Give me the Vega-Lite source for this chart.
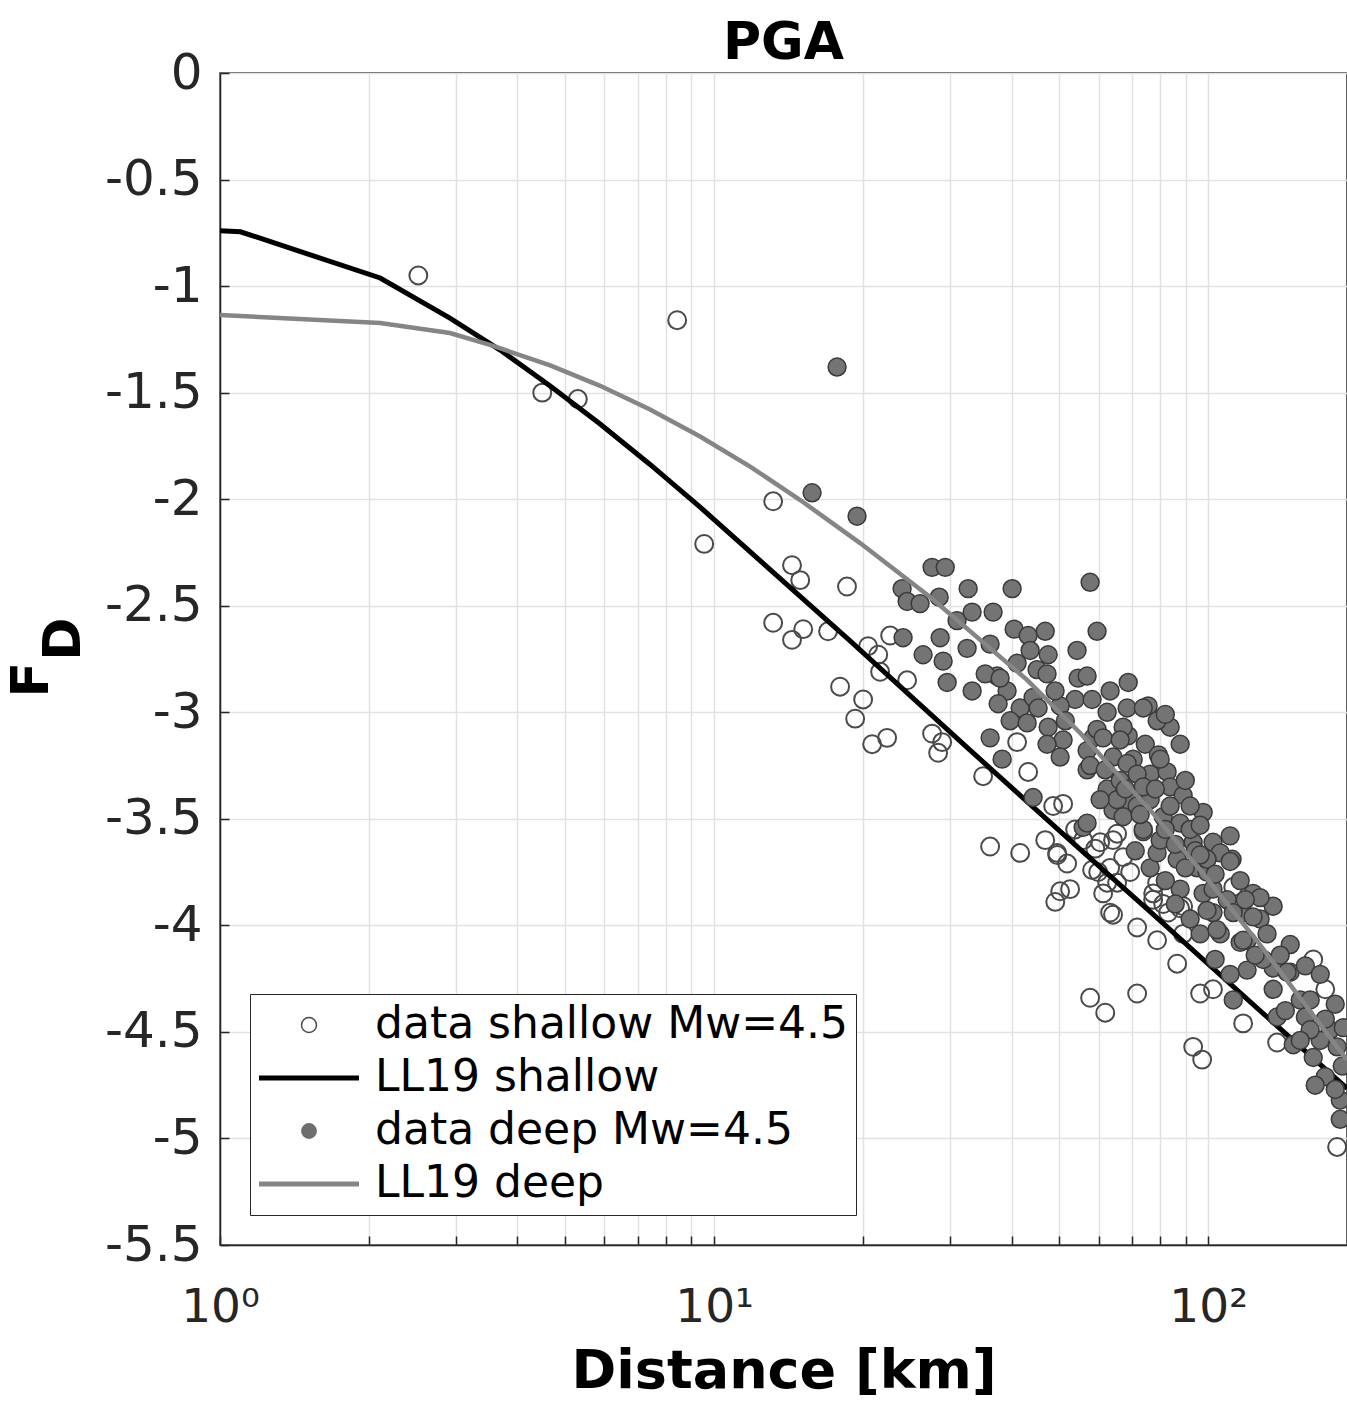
{
  "$schema": "https://vega.github.io/schema/vega-lite/v6.json",
  "width": 1127,
  "height": 1172,
  "autosize": {"type": "none"},
  "padding": {"left": 220, "top": 73, "right": 0, "bottom": 156},
  "background": "white",
  "title": {"text": "PGA", "frame": "group", "anchor": "middle", "fontSize": 52, "fontWeight": "bold", "font": "DejaVu Sans", "color": "#000000", "baseline": "alphabetic", "offset": -63},
  "config": {"view": {"stroke": "#262626", "strokeWidth": 1.5}, "font": "DejaVu Sans"},
  "datasets": {
    "shallow": [
      {"d":2.52,"fd":-0.95},{"d":8.42,"fd":-1.16},{"d":4.49,"fd":-1.50},{"d":5.30,"fd":-1.53},{"d":13.17,"fd":-2.01},{"d":9.55,"fd":-2.21},{"d":14.38,"fd":-2.31},{"d":14.94,"fd":-2.38},{"d":18.58,"fd":-2.41},{"d":13.17,"fd":-2.58},{"d":15.15,"fd":-2.61},{"d":14.38,"fd":-2.66},{"d":17.01,"fd":-2.62},{"d":20.50,"fd":-2.69},{"d":21.49,"fd":-2.73},{"d":21.68,"fd":-2.81},{"d":17.99,"fd":-2.88},{"d":20.03,"fd":-2.94},{"d":19.30,"fd":-3.03},{"d":22.40,"fd":-3.12},{"d":20.89,"fd":-3.15},{"d":22.72,"fd":-2.64},{"d":24.59,"fd":-2.85},{"d":27.62,"fd":-3.10},{"d":28.95,"fd":-3.14},{"d":28.41,"fd":-3.19},{"d":35.04,"fd":-3.30},{"d":43.22,"fd":-3.28},{"d":41.05,"fd":-3.14},{"d":36.20,"fd":-3.63},{"d":41.64,"fd":-3.66},{"d":48.56,"fd":-3.44},{"d":50.87,"fd":-3.43},{"d":49.47,"fd":-3.66},{"d":51.83,"fd":-3.71},{"d":55.84,"fd":-3.60},{"d":60.45,"fd":-3.61},{"d":65.42,"fd":-3.57},{"d":52.55,"fd":-3.83},{"d":61.30,"fd":-3.85},{"d":67.29,"fd":-3.68},{"d":69.53,"fd":-3.75},{"d":58.23,"fd":-3.74},{"d":63.33,"fd":-3.73},{"d":50.17,"fd":-3.84},{"d":49.04,"fd":-3.89},{"d":62.45,"fd":-3.80},{"d":63.33,"fd":-3.94},{"d":71.82,"fd":-4.01},{"d":77.39,"fd":-3.88},{"d":83.0,"fd":-3.94},{"d":89.0,"fd":-4.04},{"d":89.0,"fd":-3.91},{"d":78.84,"fd":-4.07},{"d":65.42,"fd":-3.80},{"d":86.55,"fd":-4.18},{"d":96.34,"fd":-4.32},{"d":102.3,"fd":-4.30},{"d":57.69,"fd":-4.34},{"d":61.90,"fd":-4.41},{"d":71.82,"fd":-4.32},{"d":93.25,"fd":-4.57},{"d":97.25,"fd":-4.63},{"d":117.7,"fd":-4.46},{"d":137.9,"fd":-4.55},{"d":163.2,"fd":-4.16},{"d":172.6,"fd":-4.30},{"d":182.4,"fd":-5.04},{"d":112.4,"fd":-3.82},{"d":78.84,"fd":-3.80},{"d":53.8,"fd":-3.55},{"d":46.8,"fd":-3.60},{"d":64.2,"fd":-3.60},{"d":59.1,"fd":-3.64},{"d":59.9,"fd":-3.75},{"d":81.1,"fd":-3.90},{"d":77.4,"fd":-3.85},{"d":87.77,"fd":-3.92},{"d":49.5,"fd":-3.67},{"d":64.2,"fd":-3.95}
    ],
    "deep": [
      {"d":17.74,"fd":-1.38},{"d":15.79,"fd":-1.97},{"d":19.47,"fd":-2.08},{"d":27.62,"fd":-2.32},{"d":29.37,"fd":-2.32},{"d":24.02,"fd":-2.42},{"d":24.59,"fd":-2.48},{"d":26.12,"fd":-2.49},{"d":28.55,"fd":-2.46},{"d":32.68,"fd":-2.42},{"d":40.11,"fd":-2.42},{"d":57.69,"fd":-2.39},{"d":31.03,"fd":-2.57},{"d":33.29,"fd":-2.53},{"d":36.71,"fd":-2.53},{"d":28.68,"fd":-2.65},{"d":24.13,"fd":-2.65},{"d":32.52,"fd":-2.70},{"d":26.49,"fd":-2.73},{"d":29.08,"fd":-2.76},{"d":29.63,"fd":-2.86},{"d":33.29,"fd":-2.90},{"d":36.20,"fd":-2.68},{"d":40.49,"fd":-2.61},{"d":43.22,"fd":-2.64},{"d":46.80,"fd":-2.62},{"d":59.59,"fd":-2.62},{"d":37.40,"fd":-2.83},{"d":41.05,"fd":-2.77},{"d":45.06,"fd":-2.80},{"d":39.18,"fd":-2.90},{"d":41.64,"fd":-2.98},{"d":44.23,"fd":-2.93},{"d":36.20,"fd":-3.12},{"d":39.74,"fd":-3.04},{"d":35.38,"fd":-2.82},{"d":37.93,"fd":-2.84},{"d":43.62,"fd":-2.71},{"d":47.44,"fd":-2.73},{"d":54.28,"fd":-2.71},{"d":47.2,"fd":-2.82},{"d":37.58,"fd":-2.96},{"d":45.28,"fd":-2.98},{"d":43.02,"fd":-3.05},{"d":47.44,"fd":-3.07},{"d":50.87,"fd":-3.13},{"d":54.55,"fd":-2.84},{"d":56.89,"fd":-2.83},{"d":53.8,"fd":-2.94},{"d":58.23,"fd":-2.94},{"d":38.29,"fd":-3.22},{"d":44.23,"fd":-3.40},{"d":47.2,"fd":-3.15},{"d":50.17,"fd":-3.21},{"d":56.89,"fd":-3.27},{"d":58.5,"fd":-3.12},{"d":55.84,"fd":-3.54},{"d":63.33,"fd":-2.90},{"d":68.9,"fd":-2.86},{"d":75.6,"fd":-2.97},{"d":83.78,"fd":-3.07},{"d":78.84,"fd":-3.04},{"d":62.45,"fd":-3.00},{"d":68.55,"fd":-2.98},{"d":59.59,"fd":-3.08},{"d":68.9,"fd":-3.11},{"d":56.89,"fd":-3.18},{"d":64.2,"fd":-3.21},{"d":70.5,"fd":-3.22},{"d":76.32,"fd":-3.29},{"d":82.6,"fd":-3.28},{"d":62.45,"fd":-3.36},{"d":69.53,"fd":-3.42},{"d":76.32,"fd":-3.41},{"d":83.78,"fd":-3.35},{"d":89.0,"fd":-3.39},{"d":97.7,"fd":-3.47},{"d":91.96,"fd":-3.44},{"d":64.2,"fd":-3.46},{"d":73.9,"fd":-3.56},{"d":81.1,"fd":-3.49},{"d":87.77,"fd":-3.52},{"d":93.25,"fd":-3.61},{"d":102.3,"fd":-3.61},{"d":110.8,"fd":-3.58},{"d":111.8,"fd":-3.69},{"d":105.8,"fd":-3.66},{"d":76.32,"fd":-3.73},{"d":78.84,"fd":-3.66},{"d":86.55,"fd":-3.69},{"d":95.0,"fd":-3.73},{"d":99.5,"fd":-3.75},{"d":87.77,"fd":-3.83},{"d":97.7,"fd":-3.85},{"d":102.3,"fd":-3.94},{"d":109.3,"fd":-3.88},{"d":123.3,"fd":-3.85},{"d":135.4,"fd":-3.91},{"d":117.7,"fd":-3.94},{"d":127.4,"fd":-3.97},{"d":105.8,"fd":-4.04},{"d":119.9,"fd":-4.07},{"d":131.6,"fd":-4.04},{"d":146.6,"fd":-4.09},{"d":96.34,"fd":-4.04},{"d":56.89,"fd":-3.52},{"d":116.1,"fd":-4.08},{"d":119.9,"fd":-4.21},{"d":135.4,"fd":-4.20},{"d":146.6,"fd":-4.22},{"d":157.3,"fd":-4.19},{"d":135.4,"fd":-4.30},{"d":153.6,"fd":-4.35},{"d":157.3,"fd":-4.43},{"d":112.4,"fd":-4.35},{"d":137.9,"fd":-4.43},{"d":148.7,"fd":-4.56},{"d":163.2,"fd":-4.62},{"d":172.6,"fd":-4.71},{"d":176.6,"fd":-4.49},{"d":187.7,"fd":-4.48},{"d":182.4,"fd":-4.57},{"d":185.1,"fd":-4.82},{"d":185.1,"fd":-4.91},{"d":67.29,"fd":-3.07},{"d":61.3,"fd":-3.12},{"d":57.69,"fd":-3.25},{"d":68.55,"fd":-3.24},{"d":71.82,"fd":-3.29},{"d":73.9,"fd":-3.35},{"d":65.42,"fd":-3.41},{"d":71.82,"fd":-3.44},{"d":73.9,"fd":-3.55},{"d":67.29,"fd":-3.49},{"d":73.9,"fd":-2.98},{"d":99.5,"fd":-3.69},{"d":110.8,"fd":-3.70},{"d":99.5,"fd":-3.93},{"d":112.4,"fd":-3.94},{"d":104.2,"fd":-4.02},{"d":127.4,"fd":-3.87},{"d":123.3,"fd":-3.96},{"d":117.7,"fd":-4.07},{"d":144.5,"fd":-4.22},{"d":102.3,"fd":-3.83},{"d":79.96,"fd":-3.60},{"d":85.8,"fd":-3.62},{"d":91.96,"fd":-3.55},{"d":83.78,"fd":-3.44},{"d":78.2,"fd":-3.36},{"d":66.36,"fd":-3.32},{"d":96.34,"fd":-3.53},{"d":89.9,"fd":-3.73},{"d":81.9,"fd":-3.79},{"d":71.2,"fd":-3.65},{"d":60.45,"fd":-3.41},{"d":50.17,"fd":-2.97},{"d":49.0,"fd":-2.90},{"d":51.4,"fd":-3.04},{"d":66.36,"fd":-3.13},{"d":74.6,"fd":-3.15},{"d":79.3,"fd":-3.20},{"d":81.9,"fd":-3.01},{"d":168.6,"fd":-4.54},{"d":160.9,"fd":-4.49},{"d":180.8,"fd":-4.77},
      {"d":164.7,"fd":-4.75},{"d":153.6,"fd":-4.54},{"d":186.8,"fd":-4.66},{"d":180.8,"fd":-4.37},{"d":168.6,"fd":-4.23},{"d":129.2,"fd":-4.16},{"d":110.8,"fd":-4.23},{"d":103.3,"fd":-4.16},{"d":89.9,"fd":-3.32},{"d":94.2,"fd":-3.65},{"d":103.3,"fd":-3.76},{"d":81.9,"fd":-3.55},{"d":72.84,"fd":-3.48},{"d":68.0,"fd":-3.36},{"d":61.9,"fd":-3.27},{"d":79.96,"fd":-3.22},{"d":87.77,"fd":-3.15},{"d":96.34,"fd":-3.67},{"d":116.1,"fd":-3.79},{"d":118.9,"fd":-3.88},{"d":85.8,"fd":-3.90},{"d":91.96,"fd":-3.97},{"d":124.5,"fd":-4.14},{"d":139.9,"fd":-4.14},{"d":143.3,"fd":-4.40},{"d":160.9,"fd":-4.35},{"d":172.6,"fd":-4.44}
    ],
    "ll19shallow": [
      {"d":1,"fd":-0.74},{"d":1.1,"fd":-0.745},{"d":2.11,"fd":-0.962},{"d":2.92,"fd":-1.15},{"d":3.69,"fd":-1.30},{"d":4.66,"fd":-1.469},{"d":5.88,"fd":-1.647},{"d":7.42,"fd":-1.837},{"d":9.37,"fd":-2.037},{"d":18.85,"fd":-2.665},{"d":32.5,"fd":-3.165},{"d":54.3,"fd":-3.63},{"d":76.3,"fd":-3.935},{"d":131.6,"fd":-4.43},{"d":191,"fd":-4.765}
    ],
    "ll19deep": [
      {"d":1,"fd":-1.136},{"d":2.11,"fd":-1.173},{"d":2.92,"fd":-1.22},{"d":3.52,"fd":-1.276},{"d":4.66,"fd":-1.372},{"d":5.88,"fd":-1.468},{"d":7.42,"fd":-1.579},{"d":9.37,"fd":-1.706},{"d":11.83,"fd":-1.847},{"d":14.94,"fd":-2.004},{"d":19.75,"fd":-2.206},{"d":27.36,"fd":-2.459},{"d":43.0,"fd":-2.848},{"d":55.07,"fd":-3.097},{"d":76.32,"fd":-3.458},{"d":96.34,"fd":-3.74},{"d":127.4,"fd":-4.092},{"d":191,"fd":-4.632}
    ]
  },
  "encoding": {
    "x": {"field": "d", "type": "quantitative", "scale": {"type": "log", "domain": [1, 191], "nice": false},
      "axis": {"title": "Distance [km]", "titleFontSize": 54, "titleFontWeight": "bold", "titleColor": "#000000", "titlePadding": 14,
        "values": [1,2,3,4,5,6,7,8,9,10,20,30,40,50,60,70,80,90,100],
        "labelExpr": "datum.value == 1 ? '10⁰' : datum.value == 10 ? '10¹' : datum.value == 100 ? '10²' : ''",
        "labelFontSize": 47, "labelColor": "#262626", "labelPadding": 48, "labelFlush": false, "labelOverlap": false, "labelBound": false,
        "tickSize": -9, "tickColor": "#262626", "tickWidth": 1.5, "domainColor": "#262626", "domainWidth": 1.5,
        "grid": true, "gridColor": "#e2e2e2", "gridWidth": 1.5}},
    "y": {"field": "fd", "type": "quantitative", "scale": {"domain": [-5.5, 0], "nice": false, "zero": false},
      "axis": {"title": ["F\u2800", "\u2800D"], "titleFontSize": 52, "titleFontWeight": "bold", "titleColor": "#000000", "titleLineHeight": 32, "titlePadding": 14,
        "values": [-5.5,-5,-4.5,-4,-3.5,-3,-2.5,-2,-1.5,-1,-0.5,0],
        "labelExpr": "datum.value + ''",
        "labelFontSize": 50, "labelColor": "#262626", "labelPadding": 27, "labelFlush": false, "labelOverlap": false, "labelBound": false,
        "tickSize": -9, "tickColor": "#262626", "tickWidth": 1.5, "domainColor": "#262626", "domainWidth": 1.5,
        "grid": true, "gridColor": "#e2e2e2", "gridWidth": 1.5}}
  },
  "layer": [
    {
      "data": {"name": "shallow"},
      "mark": {"type": "point", "shape": "circle", "filled": false, "size": 320, "strokeWidth": 2, "opacity": 1, "clip": true},
      "encoding": {"stroke": {"datum": "data shallow Mw=4.5", "type": "nominal"}}
    },
    {
      "data": {"name": "ll19shallow"},
      "mark": {"type": "line", "strokeWidth": 5, "clip": true},
      "encoding": {"stroke": {"datum": "LL19 shallow", "type": "nominal",
          "scale": {"domain": ["data shallow Mw=4.5", "LL19 shallow", "data deep Mw=4.5", "LL19 deep"], "range": ["#4a4a4a", "#000000", "#6e6e6e", "#858585"]},
          "legend": {"title": null, "orient": "bottom-left", "offset": 30,
            "symbolSize": 10000, "symbolStrokeWidth": 1.5, "clipHeight": 46, "rowPadding": 7, "padding": 8,
            "symbolType": {"expr": "datum.value === 'LL19 shallow' || datum.value === 'LL19 deep' ? 'M-1,-0.036L1,-0.036M-1,-0.012L1,-0.012M-1,0.012L1,0.012M-1,0.036L1,0.036' : datum.value === 'data deep Mw=4.5' ? 'M-0.144,0A0.144,0.144,0,1,0,0.144,0A0.144,0.144,0,1,0,-0.144,0M-0.12,0A0.12,0.12,0,1,0,0.12,0A0.12,0.12,0,1,0,-0.12,0M-0.096,0A0.096,0.096,0,1,0,0.096,0A0.096,0.096,0,1,0,-0.096,0M-0.072,0A0.072,0.072,0,1,0,0.072,0A0.072,0.072,0,1,0,-0.072,0M-0.048,0A0.048,0.048,0,1,0,0.048,0A0.048,0.048,0,1,0,-0.048,0M-0.024,0A0.024,0.024,0,1,0,0.024,0A0.024,0.024,0,1,0,-0.024,0M-0.006,0L0.006,0' : 'M-0.15,0A0.15,0.15,0,1,0,0.15,0A0.15,0.15,0,1,0,-0.15,0Z'"},
            "labelFontSize": 44, "labelFont": "DejaVu Sans", "labelColor": "#000000", "labelOffset": 15, "labelLimit": 0,
            "strokeColor": "#262626", "fillColor": "#ffffff"
          }}}
    },
    {
      "data": {"name": "deep"},
      "mark": {"type": "point", "shape": "circle", "filled": false, "fill": "#747474", "fillOpacity": 1, "stroke": "#3a3a3a", "size": 320, "strokeWidth": 1.5, "opacity": 1, "clip": true},
      "encoding": {}
    },
    {
      "data": {"name": "ll19deep"},
      "mark": {"type": "line", "strokeWidth": 4.5, "clip": true},
      "encoding": {"stroke": {"datum": "LL19 deep", "type": "nominal"}}
    }
  ]
}
